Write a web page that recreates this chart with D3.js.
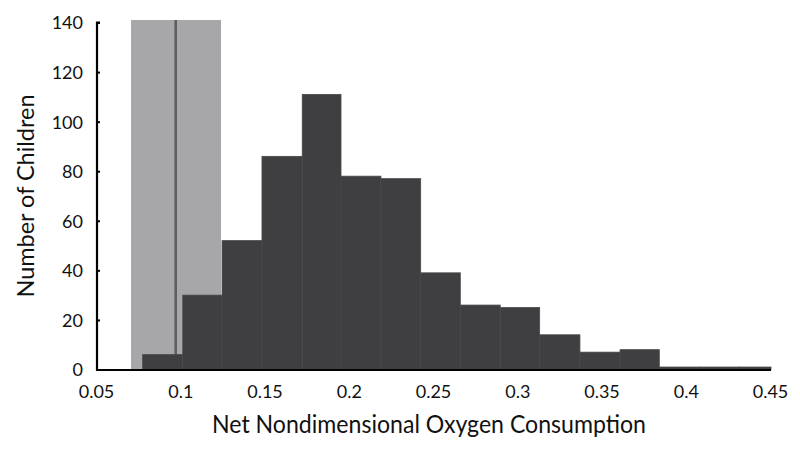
<!DOCTYPE html>
<html>
<head>
<meta charset="utf-8">
<script src="https://cdn.jsdelivr.net/npm/d3@7"></script>
<style>
  html, body { margin: 0; padding: 0; background: #fff; }
  svg { display: block; }
  text { font-family: Lato, "Open Sans", sans-serif; fill: #111; }
</style>
</head>
<body>
<svg id="chart" width="800" height="452"></svg>
<script>
// ---- data ----
const binEdges = [0.0777, 0.1015, 0.1248, 0.1485, 0.1724, 0.1954, 0.2191, 0.2427, 0.2662,
                  0.2899, 0.3133, 0.3372, 0.3610, 0.3843, 0.4079, 0.4316, 0.4506];
const counts = [6, 30, 52, 86, 111, 78, 77, 39, 26, 25, 14, 7, 8, 1, 1, 1];
const bandRange = [0.0708, 0.1242];   // shaded reference band
const bandHeight = 141;
const refLine = 0.0973;                // reference line inside band
const xTicks = [0.05, 0.1, 0.15, 0.2, 0.25, 0.3, 0.35, 0.4, 0.45];
const yTicks = [0, 20, 40, 60, 80, 100, 120, 140];
const xTitle = "Net Nondimensional Oxygen Consumption";
const yTitle = "Number of Children";

// ---- chart ----
const svg = d3.select("#chart");
const x = d3.scaleLinear().domain([0.05, 0.45]).range([96, 770]);
const y = d3.scaleLinear().domain([0, 140]).range([369.5, 22.5]);

const bins = counts.map((c, i) => ({ x0: binEdges[i], x1: binEdges[i + 1], n: c }));

// shaded band
svg.append("rect")
  .attr("x", x(bandRange[0]))
  .attr("y", y(bandHeight))
  .attr("width", x(bandRange[1]) - x(bandRange[0]))
  .attr("height", y(0) - y(bandHeight))
  .attr("fill", "#a7a7a9");

// reference line
svg.append("line")
  .attr("x1", x(refLine)).attr("x2", x(refLine))
  .attr("y1", y(bandHeight)).attr("y2", y(0))
  .attr("stroke", "#5e5e60").attr("stroke-width", 2.6);

// histogram bars
svg.append("g").selectAll("rect").data(bins).join("rect")
  .attr("x", d => x(d.x0))
  .attr("y", d => y(d.n))
  .attr("width", d => x(d.x1) - x(d.x0))
  .attr("height", d => y(0) - y(d.n))
  .attr("fill", "#3f3f41")
  .attr("stroke", "#48484a")
  .attr("stroke-width", 0.8);

// y axis
const yAxis = d3.axisRight(y).tickValues(yTicks).tickSize(3).tickFormat(d3.format("d"));
const gy = svg.append("g").attr("transform", `translate(${x(0.05) + 1},0)`).call(yAxis);
gy.select(".domain").attr("stroke", "#000").attr("stroke-width", 2.2)
  .attr("d", `M3,${y(140)}H0V${y(0) + 1}`);
gy.selectAll(".tick line").attr("stroke", "#000").attr("stroke-width", 2);
gy.selectAll(".tick text")
  .attr("x", -14).attr("dy", "0.36em")
  .attr("text-anchor", "end")
  .style("font-size", "18px");

// x axis
const xAxis = d3.axisBottom(x).tickValues(xTicks).tickSize(0).tickFormat(d => String(d));
const gx = svg.append("g").attr("transform", `translate(0,${y(0) + 0.5})`).call(xAxis);
gx.select(".domain").attr("stroke", "#000").attr("stroke-width", 2)
  .attr("d", `M${x(0.05)},0H${x(binEdges[binEdges.length - 1])}`);
gx.selectAll(".tick text")
  .attr("y", 15).attr("dy", "0.71em")
  .style("font-size", "18px");

// axis titles
svg.append("text")
  .attr("x", 429).attr("y", 433)
  .attr("text-anchor", "middle")
  .attr("textLength", 434).attr("lengthAdjust", "spacingAndGlyphs")
  .style("font-size", "25px")
  .text(xTitle);

svg.append("text")
  .attr("transform", "translate(34,196) rotate(-90)")
  .attr("text-anchor", "middle")
  .attr("textLength", 203).attr("lengthAdjust", "spacingAndGlyphs")
  .style("font-size", "23px")
  .text(yTitle);
</script>
</body>
</html>
